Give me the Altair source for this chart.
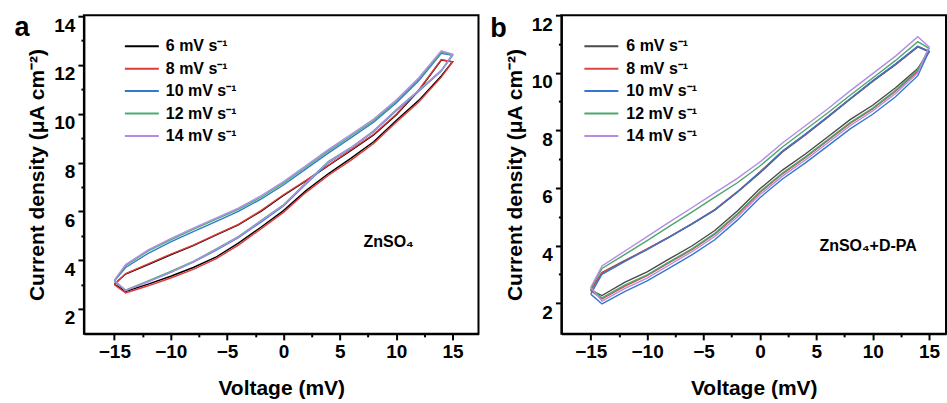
import altair as alt
import pandas as pd

FONT = "Liberation Sans"

SERIES = ["6 mV s⁻¹", "8 mV s⁻¹", "10 mV s⁻¹", "12 mV s⁻¹", "14 mV s⁻¹"]
COLORS_A = ["#000000", "#e03a3a", "#2f7bd0", "#4bae70", "#b48ce6"]
COLORS_B = ["#4a4a4a", "#dc4545", "#3577cc", "#4aa86c", "#b58ce4"]

# voltage grid of the forward (upper) and reverse (lower) sweep, mV
V_UP = [-15, -14, -12, -10, -8, -6, -4, -2, 0, 2, 4, 6, 8, 10, 12, 14, 15]
V_DN = [14, 12, 10, 8, 6, 4, 2, 0, -2, -4, -6, -8, -10, -12, -14, -15]

# panel a: ZnSO4 (current density, uA cm-2)
A6_UP = [3.02, 3.43, 3.82, 4.22, 4.60, 5.03, 5.45, 6.00, 6.65, 7.25, 7.88, 8.50, 9.13, 9.95, 10.95, 12.20, 12.13]
A6_DN = [11.55, 10.55, 9.72, 8.85, 8.18, 7.55, 6.85, 6.03, 5.35, 4.70, 4.12, 3.70, 3.34, 3.02, 2.72, 3.02]
A8_UP = [3.00, 3.45, 3.85, 4.25, 4.62, 5.05, 5.47, 6.03, 6.68, 7.27, 7.90, 8.53, 9.16, 9.98, 10.98, 12.22, 12.12]
A8_DN = [11.50, 10.48, 9.65, 8.78, 8.10, 7.48, 6.78, 5.96, 5.28, 4.62, 4.05, 3.62, 3.27, 2.95, 2.66, 3.00]
A10_UP = [3.14, 3.70, 4.28, 4.75, 5.17, 5.58, 6.00, 6.50, 7.08, 7.74, 8.40, 9.02, 9.65, 10.44, 11.35, 12.48, 12.40]
A10_DN = [11.75, 10.92, 10.12, 9.26, 8.60, 8.00, 7.12, 6.22, 5.56, 4.92, 4.40, 3.92, 3.50, 3.12, 2.76, 3.14]
A12_UP = [3.16, 3.78, 4.38, 4.83, 5.26, 5.67, 6.08, 6.58, 7.16, 7.82, 8.48, 9.10, 9.72, 10.50, 11.42, 12.52, 12.42]
A12_DN = [11.78, 10.96, 10.16, 9.30, 8.62, 8.05, 7.17, 6.27, 5.62, 4.97, 4.45, 3.95, 3.54, 3.15, 2.77, 3.16]
A14_UP = [3.18, 3.82, 4.42, 4.88, 5.31, 5.72, 6.13, 6.64, 7.22, 7.88, 8.54, 9.16, 9.78, 10.56, 11.48, 12.58, 12.44]
A14_DN = [11.76, 10.95, 10.15, 9.28, 8.60, 8.03, 7.15, 6.25, 5.60, 4.94, 4.43, 3.93, 3.50, 3.12, 2.75, 3.18]

# panel b: ZnSO4 + D-PA
B6_UP = [2.45, 3.06, 3.47, 3.87, 4.30, 4.75, 5.23, 5.85, 6.52, 7.25, 7.83, 8.45, 9.08, 9.70, 10.27, 10.90, 10.73]
B6_DN = [10.15, 9.47, 8.87, 8.37, 7.77, 7.17, 6.62, 5.97, 5.20, 4.52, 3.99, 3.54, 3.08, 2.72, 2.26, 2.45]
B8_UP = [2.43, 3.05, 3.46, 3.88, 4.31, 4.76, 5.25, 5.87, 6.55, 7.27, 7.85, 8.47, 9.10, 9.72, 10.29, 10.92, 10.74]
B8_DN = [10.05, 9.35, 8.74, 8.24, 7.64, 7.04, 6.49, 5.84, 5.07, 4.39, 3.86, 3.41, 2.95, 2.58, 2.14, 2.43]
B10_UP = [2.31, 3.00, 3.44, 3.86, 4.30, 4.76, 5.24, 5.86, 6.55, 7.28, 7.86, 8.47, 9.10, 9.72, 10.30, 10.92, 10.75]
B10_DN = [9.90, 9.16, 8.56, 8.05, 7.45, 6.86, 6.31, 5.66, 4.88, 4.20, 3.68, 3.22, 2.77, 2.40, 1.97, 2.31]
B12_UP = [2.50, 3.20, 3.68, 4.17, 4.67, 5.17, 5.68, 6.18, 6.76, 7.42, 8.01, 8.60, 9.22, 9.82, 10.42, 11.08, 10.85]
B12_DN = [10.10, 9.38, 8.77, 8.27, 7.67, 7.07, 6.52, 5.87, 5.10, 4.42, 3.89, 3.44, 2.98, 2.62, 2.18, 2.50]
B14_UP = [2.54, 3.29, 3.80, 4.31, 4.82, 5.32, 5.83, 6.33, 6.90, 7.56, 8.15, 8.74, 9.37, 9.97, 10.57, 11.25, 10.90]
B14_DN = [10.00, 9.27, 8.67, 8.16, 7.56, 6.96, 6.41, 5.76, 4.99, 4.31, 3.79, 3.33, 2.87, 2.50, 2.07, 2.54]

X_TICKS = [-15, -12.5, -10, -7.5, -5, -2.5, 0, 2.5, 5, 7.5, 10, 12.5, 15]
A_Y_TICKS = [2, 3, 4, 5, 6, 7, 8, 9, 10, 11, 12, 13, 14]
B_Y_TICKS = [2, 3, 4, 5, 6, 7, 8, 9, 10, 11, 12]


def loops(pairs):
    rows = []
    for name, (up, dn) in zip(SERIES, pairs):
        vs = V_UP + V_DN
        cs = up + dn
        for i, (v, c) in enumerate(zip(vs, cs)):
            rows.append({"series": name, "idx": i, "v": v, "c": c})
    return pd.DataFrame(rows)


df_a = loops([(A6_UP, A6_DN), (A8_UP, A8_DN), (A10_UP, A10_DN), (A12_UP, A12_DN), (A14_UP, A14_DN)])
df_b = loops([(B6_UP, B6_DN), (B8_UP, B8_DN), (B10_UP, B10_DN), (B12_UP, B12_DN), (B14_UP, B14_DN)])
leg_df = pd.DataFrame({"series": SERIES})

W_A, W_B, H = 395, 385, 319


def panel(df, colors, x_dom, y_dom, y_ticks, width, note, note_xy, letter, letter_xy, leg_x, leg_tx):
    color = alt.Color("series:N", sort=SERIES,
                      scale=alt.Scale(domain=SERIES, range=colors), legend=None)
    x_axis = alt.Axis(values=X_TICKS, title="Voltage (mV)",
                      labelExpr="datum.value % 5 === 0 ? datum.label : ''",
                      tickSize={"condition": {"test": "datum.value % 5 === 0", "value": 6}, "value": 3},
                      labelPadding=3, titlePadding=16)
    y_axis = alt.Axis(values=y_ticks, title="Current density (μA cm⁻²)",
                      labelExpr="datum.value % 2 === 0 ? datum.label : ''",
                      tickSize={"condition": {"test": "datum.value % 2 === 0", "value": 6}, "value": 3},
                      labelOffset=9, labelPadding=3, titlePadding=6)
    curves = alt.Chart(df).mark_line(strokeWidth=1.4).encode(
        x=alt.X("v:Q", scale=alt.Scale(domain=x_dom, nice=False, zero=False), axis=x_axis),
        y=alt.Y("c:Q", scale=alt.Scale(domain=y_dom, nice=False, zero=False), axis=y_axis),
        color=color,
        order="idx:Q",
    )
    leg_y = alt.Y("series:N", sort=SERIES,
                  scale=alt.Scale(type="point", range=[31, 121], padding=0), axis=None)
    rules = alt.Chart(leg_df).mark_rule(strokeWidth=2).encode(
        x=alt.value(leg_x[0]), x2=alt.value(leg_x[1]), y=leg_y, color=color)
    texts = alt.Chart(leg_df).mark_text(
        align="left", baseline="middle", font=FONT, fontSize=16, fontWeight="bold", color="black"
    ).encode(x=alt.value(leg_tx), y=leg_y, text="series:N")
    note_t = alt.Chart(pd.DataFrame({"t": [note]})).mark_text(
        align="center", baseline="middle", font=FONT, fontSize=16, fontWeight="bold", color="black"
    ).encode(x=alt.value(note_xy[0]), y=alt.value(note_xy[1]), text="t:N")
    letter_t = alt.Chart(pd.DataFrame({"t": [letter]})).mark_text(
        align="center", baseline="alphabetic", font=FONT, fontSize=27, fontWeight="bold", color="black"
    ).encode(x=alt.value(letter_xy[0]), y=alt.value(letter_xy[1]), text="t:N")
    return alt.layer(curves, rules, texts, note_t, letter_t).resolve_scale(
        y="independent").properties(width=width, height=H)


pa = panel(df_a, COLORS_A, [-17.7, 17.3], [0.98, 14.04], A_Y_TICKS, W_A,
           "ZnSO₄", (305, 227), "a", (-62, 21), (41, 75), 82)
pb = panel(df_b, COLORS_B, [-17.6, 16.5], [0.93, 12.0], B_Y_TICKS, W_B,
           "ZnSO₄+D-PA", (307, 231), "b", (-63, 22), (23, 57), 65)

chart = alt.hconcat(pa, pb, spacing=83, bounds="flush").resolve_scale(
    color="independent", x="independent", y="independent"
).configure_view(stroke="black", strokeWidth=2).configure_axis(
    grid=False, domainColor="black", domainWidth=2, tickColor="black", tickWidth=2,
    labelFont=FONT, labelFontSize=19, labelFontWeight="bold", labelColor="black",
    titleFont=FONT, titleFontSize=21, titleFontWeight="bold", titleColor="black",
).properties(padding={"left": 13, "top": 13, "right": 0, "bottom": 0}, background="white")

chart.save("out.html", embed_options={"renderer": "svg", "actions": False})
